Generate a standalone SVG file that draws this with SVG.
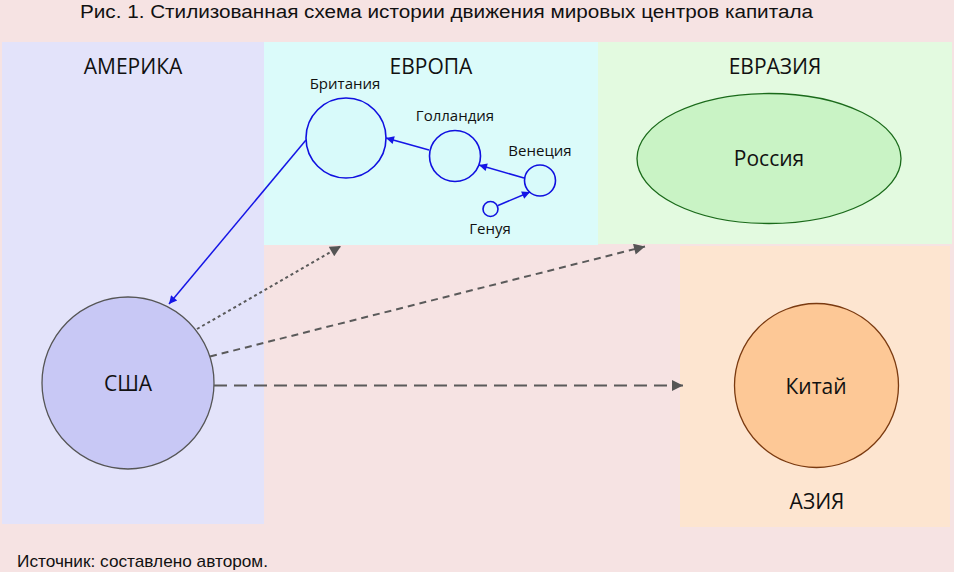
<svg xmlns="http://www.w3.org/2000/svg" width="954" height="572" viewBox="0 0 954 572">
<style>
.cap{font-family:"Liberation Sans",Arial,sans-serif;font-size:18px;fill:#111}
.reg{font-family:"Open Sans","Noto Sans",sans-serif;font-size:21px;fill:#111;text-anchor:middle}
.lbl{font-family:"Open Sans","Noto Sans",sans-serif;font-size:15px;fill:#111;text-anchor:middle}
.nlbl{font-family:"Open Sans","Noto Sans",sans-serif;font-size:21px;fill:#111;text-anchor:middle}
.eu{fill:#d8fafa;stroke:#1010e0;stroke-width:1.6}
.blue{stroke:#1515e6;stroke-width:1.5;fill:none}
.grey{stroke:#5a5a5a;stroke-width:2;fill:none}
</style>
<defs>
<marker id="ab" viewBox="0 0 10 10" refX="10" refY="5" markerWidth="10" markerHeight="8" markerUnits="userSpaceOnUse" orient="auto"><path d="M0,0L10,5L0,10z" fill="#1515e6"/></marker>
<marker id="ag" viewBox="0 0 10 10" refX="10" refY="5" markerWidth="13" markerHeight="11" markerUnits="userSpaceOnUse" orient="auto"><path d="M0,0L10,5L0,10z" fill="#555"/></marker>
</defs>
<rect width="954" height="572" fill="#f6e3e3"/>
<text class="cap" x="80" y="18" textLength="733" lengthAdjust="spacingAndGlyphs">Рис. 1. Стилизованная схема истории движения мировых центров капитала</text>
<g id="region-america"><rect x="2" y="42" width="262" height="482" fill="#e3e3fa"/><text class="reg" x="133" y="74">АМЕРИКА</text></g>
<g id="region-europe"><rect x="264" y="42" width="334" height="203" fill="#dbfbfa"/><text class="reg" x="431" y="74">ЕВРОПА</text></g>
<g id="region-eurasia"><rect x="598" y="42" width="354" height="202" fill="#e3fae0"/><text class="reg" x="775" y="74">ЕВРАЗИЯ</text></g>
<g id="region-asia"><rect x="680" y="246" width="270" height="281" fill="#fde5d0"/><text class="reg" x="817" y="509">АЗИЯ</text></g>
<g id="usa"><circle cx="128" cy="383" r="86" fill="#c8c8f5" stroke="#555" stroke-width="1.3"/><text class="nlbl" x="128" y="391">США</text></g>
<g id="britain"><circle class="eu" cx="346" cy="138" r="40"/><text class="lbl" x="345" y="89">Британия</text></g>
<g id="holland"><circle class="eu" cx="455" cy="156" r="25.5"/><text class="lbl" x="455" y="121">Голландия</text></g>
<g id="venice"><circle class="eu" cx="540" cy="180.5" r="15.5"/><text class="lbl" x="540" y="156">Венеция</text></g>
<g id="genoa"><circle class="eu" cx="490.5" cy="209" r="7.5"/><text class="lbl" x="490" y="234">Генуя</text></g>
<g id="russia"><ellipse cx="769" cy="158.5" rx="132" ry="65" fill="#c9f3c5" stroke="#1a6a1a" stroke-width="1.3"/><text class="nlbl" x="769" y="166">Россия</text></g>
<g id="china"><circle cx="816.5" cy="385.5" r="82" fill="#fdc896" stroke="#7a3a10" stroke-width="1.3"/><text class="nlbl" x="816" y="394">Китай</text></g>
<g id="connectors">
<line class="blue" x1="306" y1="140" x2="169" y2="304" marker-end="url(#ab)"/>
<line class="blue" x1="429" y1="150" x2="386" y2="138" marker-end="url(#ab)"/>
<line class="blue" x1="524" y1="178" x2="479" y2="165" marker-end="url(#ab)"/>
<line class="blue" x1="498" y1="205.5" x2="530" y2="192" marker-end="url(#ab)"/>
<line class="grey" x1="197" y1="329" x2="341" y2="246" stroke-dasharray="3,3" marker-end="url(#ag)"/>
<line class="grey" x1="210" y1="356.5" x2="645" y2="246.5" stroke-dasharray="7,5" marker-end="url(#ag)"/>
<line class="grey" x1="214" y1="385.5" x2="683" y2="385.5" stroke-dasharray="13,7" marker-end="url(#ag)"/>
</g>
<text class="cap" x="17" y="567" textLength="251" lengthAdjust="spacingAndGlyphs" style="font-size:17px">Источник: составлено автором.</text>
</svg>
